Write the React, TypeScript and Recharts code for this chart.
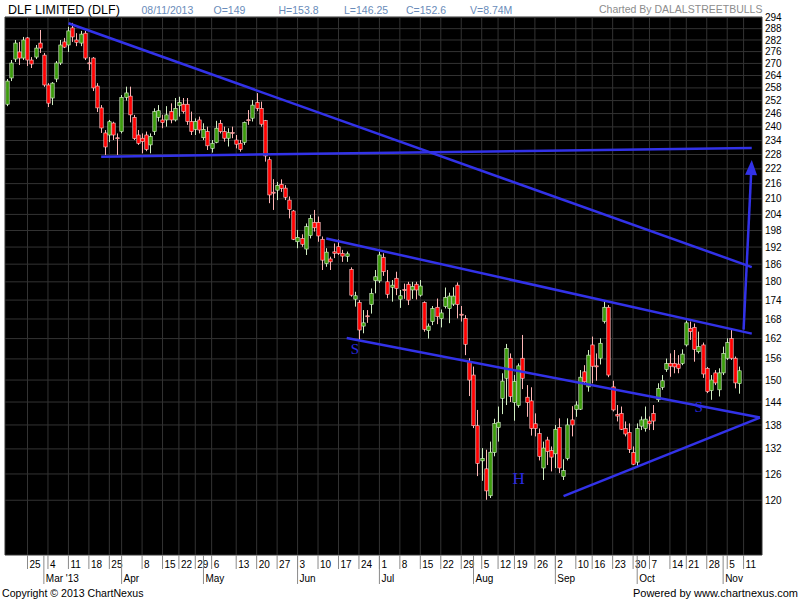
import React from 'react'
import {
  ComposedChart,
  Bar,
  XAxis,
  YAxis,
  CartesianGrid,
  ReferenceLine,
  ReferenceDot,
} from 'recharts'

const FONT = "'Liberation Sans', Arial, sans-serif"
const BLUE = '#3232e8'

// NSE weekday holidays in the period, plus one Saturday session
const holidays = [
  '2013-03-27', '2013-03-29', '2013-04-19', '2013-04-24', '2013-05-01', '2013-08-09',
  '2013-08-15', '2013-09-09', '2013-10-02', '2013-10-16', '2013-11-04',
]
const extraSessions = ['2013-05-11']

// daily OHLC, 18 Feb 2013 .. 8 Nov 2013
const opens = [
  250.3, 262.8, 272.2, 275.8, 272.7, 283.1, 271.7, 273.2, 280.4, 274.2,
  259.4, 253.2, 262.3, 270.2, 281.0, 279.4, 288.4, 282.0, 280.4, 285.6,
  270.3, 272.7, 258.9, 248.6, 237.3, 236.4, 241.7, 235.2, 237.9, 253.5,
  254.1, 244.3, 236.4, 235.0, 236.4, 232.1, 237.9, 244.3, 243.1, 243.1,
  246.9, 243.1, 249.6, 250.3, 250.3, 242.4, 238.9, 243.1, 235.2, 237.9,
  230.6, 233.2, 241.6, 237.9, 235.0, 237.5, 234.2, 232.8, 233.2, 243.2,
  243.9, 251.1, 248.4, 242.8, 225.8, 212.6, 213.4, 215.7, 214.2, 209.5,
  205.3, 193.9, 195.1, 191.3, 196.1, 201.0, 201.0, 194.8, 186.2, 187.8,
  190.3, 192.1, 189.8, 188.7, 184.2, 174.3, 173.2, 165.8, 169.0, 172.6,
  180.4, 180.3, 188.4, 180.0, 178.2, 181.2, 174.3, 177.4, 179.2, 177.3,
  179.2, 175.6, 173.2, 164.4, 167.2, 171.7, 168.1, 171.9, 171.3, 172.7,
  178.9, 169.5, 168.2, 155.2, 151.4, 137.8, 129.1, 127.2, 121.0, 131.1,
  137.3, 145.0, 150.5, 156.2, 143.9, 143.1, 156.2, 145.3, 144.3, 138.3,
  135.8, 127.4, 134.2, 131.6, 130.8, 137.3, 125.4, 129.7, 139.3, 142.0,
  142.1, 152.3, 148.1, 160.1, 154.0, 156.2, 167.2, 171.7, 148.1, 140.7,
  141.0, 137.1, 136.1, 131.1, 128.8, 137.7, 137.1, 139.0, 141.0, 144.6,
  148.0, 153.0, 154.7, 154.7, 154.5, 154.7, 160.1, 165.1, 165.4, 158.1,
  160.1, 153.3, 147.1, 152.0, 147.3, 152.0, 156.2, 162.0, 156.2, 149.0,
]
const highs = [
  262.3, 271.7, 282.0, 281.0, 283.6, 283.6, 273.2, 279.4, 287.3, 275.3,
  260.3, 260.8, 271.2, 282.0, 283.1, 289.0, 291.1, 285.6, 286.8, 286.8,
  273.2, 273.2, 260.3, 249.9, 238.6, 243.1, 242.3, 237.1, 254.6, 258.6,
  258.6, 245.4, 238.6, 237.1, 237.9, 237.1, 248.4, 249.9, 245.4, 249.4,
  250.7, 253.2, 253.8, 253.2, 253.2, 246.9, 243.8, 244.6, 241.6, 240.1,
  234.2, 242.7, 243.1, 240.1, 239.4, 240.1, 236.4, 234.2, 242.4, 247.6,
  252.3, 255.5, 251.5, 243.1, 227.0, 217.8, 216.7, 217.7, 215.4, 210.9,
  205.7, 198.2, 196.6, 200.6, 203.8, 205.7, 203.2, 195.8, 191.6, 188.6,
  193.3, 194.7, 191.0, 190.4, 184.9, 176.7, 174.0, 170.8, 170.8, 177.8,
  184.0, 190.4, 189.8, 184.0, 180.6, 183.4, 177.3, 179.4, 180.0, 180.0,
  180.0, 180.6, 173.6, 166.6, 172.1, 174.5, 171.0, 178.1, 176.4, 178.2,
  179.8, 172.1, 169.2, 156.2, 153.8, 141.9, 132.2, 131.8, 133.8, 139.6,
  142.8, 151.9, 160.4, 157.6, 151.4, 154.7, 163.1, 148.6, 148.0, 141.0,
  137.1, 133.8, 135.0, 132.6, 138.0, 139.7, 129.5, 139.7, 142.9, 144.2,
  152.8, 154.2, 158.6, 162.6, 157.6, 162.1, 174.0, 172.4, 149.8, 143.2,
  142.8, 138.9, 138.4, 132.6, 138.4, 140.2, 142.8, 140.2, 143.2, 149.1,
  151.4, 156.1, 157.6, 158.6, 157.1, 158.8, 167.5, 167.2, 166.6, 164.1,
  160.8, 153.7, 151.4, 152.8, 153.3, 159.6, 162.1, 164.6, 156.7, 153.8,
]
const lows = [
  249.4, 261.3, 270.7, 269.2, 271.7, 268.7, 267.7, 272.2, 275.3, 258.5,
  249.0, 249.9, 260.8, 269.2, 277.8, 275.8, 281.0, 278.8, 278.8, 271.7,
  266.7, 256.5, 246.7, 237.3, 227.8, 233.3, 234.2, 227.8, 237.1, 252.0,
  242.0, 234.2, 232.1, 228.5, 229.4, 228.5, 236.4, 242.4, 239.4, 240.1,
  241.6, 242.4, 244.6, 246.0, 240.9, 236.4, 236.4, 237.1, 234.2, 229.9,
  228.8, 232.8, 237.1, 233.5, 231.4, 235.0, 230.6, 229.2, 232.1, 240.9,
  242.4, 247.1, 240.1, 225.0, 208.3, 205.7, 209.5, 212.7, 209.5, 202.5,
  194.5, 191.6, 192.1, 189.2, 195.1, 197.6, 193.9, 184.0, 185.1, 184.0,
  188.1, 189.2, 186.8, 186.8, 175.1, 171.9, 161.6, 163.6, 166.8, 169.7,
  176.2, 179.6, 182.0, 174.6, 173.5, 175.6, 171.5, 174.4, 172.4, 174.4,
  174.2, 175.1, 164.1, 162.0, 166.1, 166.4, 165.4, 171.3, 166.7, 172.1,
  168.2, 167.2, 157.1, 145.6, 137.2, 125.5, 124.4, 120.1, 120.5, 130.2,
  133.8, 140.8, 143.2, 144.0, 139.1, 142.5, 147.5, 140.1, 135.3, 135.1,
  129.2, 124.6, 128.1, 126.6, 127.4, 126.2, 124.6, 129.2, 135.1, 140.1,
  141.9, 148.6, 146.8, 149.1, 149.8, 154.4, 166.6, 150.8, 141.5, 138.9,
  136.7, 135.1, 131.0, 128.1, 127.7, 136.7, 136.3, 136.7, 136.7, 144.0,
  147.3, 152.3, 150.9, 151.9, 151.9, 154.2, 159.6, 161.6, 155.2, 157.6,
  150.6, 146.4, 144.6, 148.6, 145.5, 151.4, 155.7, 155.7, 147.7, 146.25,
]
const closes = [
  261.3, 270.2, 280.4, 272.7, 282.0, 271.7, 269.7, 277.8, 277.8, 259.4,
  250.8, 260.3, 270.2, 279.4, 278.3, 286.8, 283.6, 280.8, 285.1, 272.7,
  270.0, 258.0, 248.6, 239.5, 231.2, 242.3, 236.4, 235.0, 253.5, 255.6,
  245.4, 234.8, 232.8, 233.6, 230.2, 235.7, 246.9, 247.3, 241.9, 245.4,
  243.1, 248.4, 251.2, 246.9, 242.4, 237.9, 242.4, 238.6, 238.9, 231.7,
  232.8, 239.4, 237.9, 235.0, 237.4, 237.3, 232.4, 230.2, 242.0, 243.0,
  249.9, 248.4, 241.2, 227.4, 211.5, 212.3, 215.3, 214.1, 210.6, 205.9,
  194.8, 195.5, 193.0, 199.4, 202.5, 199.0, 196.0, 187.4, 190.2, 186.8,
  189.8, 189.8, 188.8, 189.6, 175.6, 175.4, 164.6, 166.8, 168.8, 176.2,
  181.7, 189.2, 183.4, 175.9, 178.9, 177.8, 175.4, 177.2, 174.0, 178.4,
  177.3, 178.6, 164.8, 165.8, 171.3, 168.7, 169.9, 174.9, 175.3, 175.3,
  172.6, 169.3, 160.3, 150.0, 137.8, 128.5, 129.7, 122.1, 131.2, 138.4,
  138.7, 149.7, 159.1, 145.5, 149.6, 154.0, 150.5, 143.9, 137.1, 137.1,
  130.2, 132.2, 131.4, 130.0, 136.9, 127.4, 126.8, 138.0, 138.0, 143.2,
  150.8, 149.5, 157.1, 153.9, 153.8, 160.6, 171.7, 151.4, 141.9, 140.3,
  136.9, 135.7, 131.9, 128.3, 137.1, 139.3, 139.5, 138.3, 139.0, 147.7,
  149.8, 154.7, 153.9, 153.7, 153.3, 157.4, 166.8, 164.1, 158.8, 159.6,
  151.7, 146.8, 150.0, 149.2, 152.0, 157.6, 160.8, 156.2, 149.2, 152.6,
]

const weekStarts = [
  '2013-02-25', '2013-03-04', '2013-03-11', '2013-03-18', '2013-03-25', '2013-04-08',
  '2013-04-15', '2013-04-22', '2013-04-29', '2013-05-06', '2013-05-13', '2013-05-20',
  '2013-05-27', '2013-06-03', '2013-06-10', '2013-06-17', '2013-06-24', '2013-07-01',
  '2013-07-08', '2013-07-15', '2013-07-22', '2013-07-29', '2013-08-05', '2013-08-12',
  '2013-08-19', '2013-08-26', '2013-09-02', '2013-09-10', '2013-09-16', '2013-09-23',
  '2013-09-30', '2013-10-07', '2013-10-14', '2013-10-21', '2013-10-28', '2013-11-05',
  '2013-11-11',
]
const monthStarts = [
  '2013-03-01', '2013-04-01', '2013-05-02', '2013-06-03', '2013-07-01', '2013-08-01',
  '2013-09-02', '2013-10-01', '2013-11-01',
]
const monthNames = ["Mar '13", 'Apr', 'May', 'Jun', 'Jul', 'Aug', 'Sep', 'Oct', 'Nov']

const priceTicks = [
  120, 126, 132, 138, 144, 150, 156, 162, 168, 174, 180, 186, 192, 198, 204,
  210, 216, 222, 228, 234, 240, 246, 252, 258, 264, 270, 276, 282, 288, 294,
]

const trendLines = [
  [{ x: '2013-03-11', y: 290.9 }, { x: '2013-11-13', y: 185.0 }],
  [{ x: '2013-03-21', y: 227.1 }, { x: '2013-11-13', y: 230.8 }],
  [{ x: '2013-06-12', y: 195.1 }, { x: '2013-11-13', y: 163.5 }],
  [{ x: '2013-06-19', y: 162.2 }, { x: '2013-11-15', y: 139.9 }],
  [{ x: '2013-09-04', y: 120.9 }, { x: '2013-11-15', y: 139.9 }],
]
const arrowLine = [{ x: '2013-11-11', y: 164.7 }, { x: '2013-11-13', y: 225.7 }]

const patternMarks = [
  { x: '2013-06-21', y: 158.9, text: 'S', size: 15 },
  { x: '2013-08-20', y: 125.1, text: 'H', size: 17 },
  { x: '2013-10-24', y: 142.7, text: 'S', size: 15 },
]

function tradingDays(from: string, to: string) {
  const out: string[] = []
  const d = new Date(from + 'T00:00:00Z')
  const end = new Date(to + 'T00:00:00Z')
  while (d <= end) {
    const s = d.toISOString().slice(0, 10)
    const wd = d.getUTCDay()
    const open = (wd > 0 && wd < 6 && !holidays.includes(s)) || extraSessions.includes(s)
    if (open) out.push(s)
    d.setUTCDate(d.getUTCDate() + 1)
  }
  return out
}

// last five slots (11-15 Nov) are empty space on the right
const dates = tradingDays('2013-02-18', '2013-11-15')
const rows = dates.map((date, i) => ({
  date,
  open: opens[i],
  high: highs[i],
  low: lows[i],
  close: closes[i],
}))
const xTicks = dates.filter((d) => weekStarts.includes(d) || monthStarts.includes(d))
const gridTicks = dates.filter((d) => weekStarts.includes(d) || d === '2013-04-01')

const candleRange = (d: any) => (d.high == null ? null : [d.low, d.high])

const Candle = (props: any) => {
  const { x, y, width, height, payload } = props
  if (!payload || payload.high == null || !Number.isFinite(y) || !Number.isFinite(height)) {
    return <g />
  }
  const { open, high, low, close } = payload
  const top = Math.min(y, y + height)
  const h = Math.abs(height)
  const lh = Math.log(high)
  const span = lh - Math.log(low)
  const yOf = (v: number) => top + (span > 0 ? ((lh - Math.log(v)) / span) * h : 0)
  const up = close >= open
  const cx = Math.round(x + width / 2) + 0.5
  const bTop = yOf(Math.max(open, close))
  const bBot = yOf(Math.min(open, close))
  return (
    <g>
      <line x1={cx} x2={cx} y1={top} y2={top + h} stroke={up ? '#d2efc4' : '#ffb6b6'} strokeWidth={1} />
      <rect
        x={cx - 1.7}
        y={bTop}
        width={3.4}
        height={Math.max(bBot - bTop, 1)}
        fill={up ? '#3b9a0c' : '#ff0000'}
        stroke={up ? '#e2f6d6' : '#ffd2d2'}
        strokeWidth={0.6}
      />
    </g>
  )
}

const DateTick = (props: any) => {
  const { x, payload } = props
  const v = payload.value
  const isWeek = weekStarts.includes(v)
  const mi = monthStarts.indexOf(v)
  return (
    <g>
      {isWeek && <line x1={x} x2={x} y1={555} y2={569} stroke='#8a8a8a' />}
      {isWeek && (
        <text x={x + 2} y={568} fontSize={10} fill='#000' fontFamily={FONT}>
          {Number(v.slice(8))}
        </text>
      )}
      {mi >= 0 && <line x1={x} x2={x} y1={555} y2={584} stroke='#8a8a8a' />}
      {mi >= 0 && (
        <text x={x + 2} y={581.5} fontSize={10} fill='#000' fontFamily={FONT}>
          {monthNames[mi]}
        </text>
      )}
    </g>
  )
}

const Arrow = (props: any) => {
  const { x1, y1, x2, y2 } = props
  const a = Math.atan2(y2 - y1, x2 - x1)
  const len = 15
  const half = 6
  const bx = x2 - len * Math.cos(a)
  const by = y2 - len * Math.sin(a)
  const px = -Math.sin(a) * half
  const py = Math.cos(a) * half
  return (
    <g>
      <line x1={x1} y1={y1} x2={bx} y2={by} stroke={BLUE} strokeWidth={2.5} />
      <polygon points={`${x2},${y2} ${bx + px},${by + py} ${bx - px},${by - py}`} fill={BLUE} />
    </g>
  )
}

const headerItems = [
  { text: '08/11/2013', x: 141.5 },
  { text: 'O=149', x: 213.5 },
  { text: 'H=153.8', x: 278.5 },
  { text: 'L=146.25', x: 344 },
  { text: 'C=152.6', x: 406 },
  { text: 'V=8.74M', x: 470 },
]

export default function App() {
  return (
    <div style={{ position: 'absolute', left: 0, top: 0, width: 800, height: 600, background: '#fff' }}>
      <ComposedChart
        width={800}
        height={600}
        data={rows}
        margin={{ top: 17, right: 0, bottom: 0, left: 5 }}
      >
        <CartesianGrid fill='#000' stroke='#333' strokeWidth={1} xAxisId='grid' />
        <XAxis
          dataKey='date'
          ticks={xTicks}
          interval={0}
          height={45}
          tickLine={false}
          axisLine={false}
          tick={<DateTick />}
        />
        <XAxis xAxisId='grid' dataKey='date' ticks={gridTicks} interval={0} hide />
        <YAxis
          orientation='right'
          scale='log'
          domain={[108.4, 294.3]}
          allowDataOverflow
          ticks={priceTicks}
          interval={0}
          width={38}
          tickLine={false}
          axisLine={false}
          tickSize={0}
          tickMargin={3}
          tick={{ fontSize: 10, fill: '#000', fontFamily: FONT }}
        />
        <Bar dataKey={candleRange} shape={Candle} isAnimationActive={false} />
        {trendLines.map((seg, i) => (
          <ReferenceLine
            key={`tl-${i}`}
            segment={seg}
            stroke={BLUE}
            strokeWidth={2.5}
            ifOverflow='visible'
          />
        ))}
        <ReferenceLine segment={arrowLine} stroke={BLUE} ifOverflow='visible' shape={Arrow} />
        {patternMarks.map((m, i) => (
          <ReferenceDot
            key={`pm-${i}`}
            x={m.x}
            y={m.y}
            r={1}
            ifOverflow='visible'
            shape={(p: any) => (
              <text
                x={p.cx}
                y={p.cy}
                dy='0.35em'
                textAnchor='middle'
                fontSize={m.size}
                fontFamily="'Liberation Serif', 'DejaVu Serif', serif"
                fill='#2a2ae0'
              >
                {m.text}
              </text>
            )}
          />
        ))}
      </ComposedChart>
      <svg
        width={800}
        height={600}
        style={{ position: 'absolute', left: 0, top: 0, pointerEvents: 'none' }}
        fontFamily={FONT}
      >
        <text x={8} y={13.5} fontSize={12.5} fill='#000'>
          DLF LIMITED (DLF)
        </text>
        {headerItems.map((h) => (
          <text key={h.text} x={h.x} y={13.5} fontSize={10.5} fill='#6a8cba'>
            {h.text}
          </text>
        ))}
        <text x={599} y={12.5} fontSize={10.5} fill='#8c8c8c'>
          Charted By DALALSTREETBULLS
        </text>
        <text x={2} y={597} fontSize={10.6} fill='#000'>
          Copyright © 2013 ChartNexus
        </text>
        <text x={798} y={597} fontSize={11} fill='#000' textAnchor='end'>
          Powered by www.chartnexus.com
        </text>
      </svg>
    </div>
  )
}
